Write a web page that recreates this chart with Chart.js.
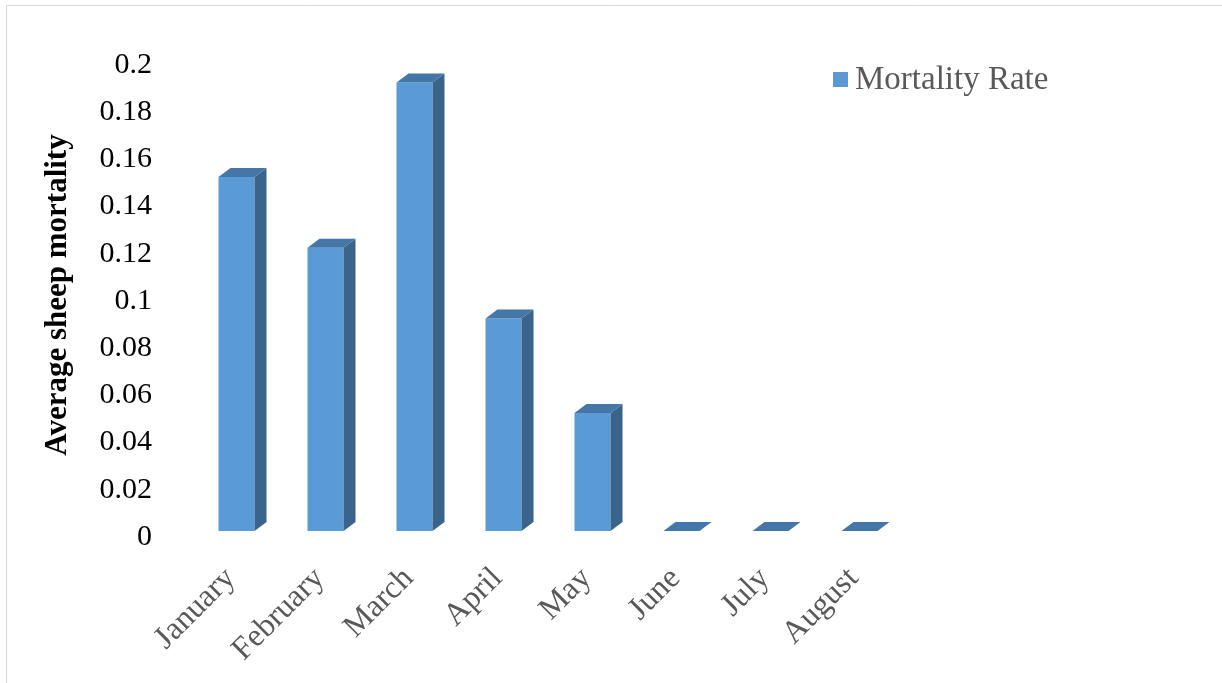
<!DOCTYPE html>
<html>
<head>
<meta charset="utf-8">
<script src="https://cdn.jsdelivr.net/npm/chart.js@4"></script>
<style>
  html, body { margin: 0; padding: 0; background: #fff; }
  #wrap { width: 1222px; height: 683px; position: relative; }
</style>
</head>
<body>
<div id="wrap"><canvas id="c" width="1222" height="683"></canvas></div>
<script>
const categories = ['January', 'February', 'March', 'April', 'May', 'June', 'July', 'August'];
const mortalityRate = [0.15, 0.12, 0.19, 0.09, 0.05, 0, 0, 0];
const yTickLabels = ['0', '0.02', '0.04', '0.06', '0.08', '0.1', '0.12', '0.14', '0.16', '0.18', '0.2'];
const seriesName = 'Mortality Rate';
const yTitle = 'Average sheep mortality';

const FRONT = '#5B9BD5';
const SIDE = '#3B648B';
const TOP = '#4576A8';
const DX = 12, DY = 9;
const SERIF = '"Liberation Serif", "Times New Roman", serif';

const bar3d = {
  id: 'bar3d',
  beforeDraw(chart) {
    const ctx = chart.ctx;
    ctx.save();
    ctx.fillStyle = '#fff';
    ctx.fillRect(0, 0, chart.width, chart.height);
    ctx.strokeStyle = '#d9d9d9';
    ctx.lineWidth = 1;
    ctx.beginPath();
    ctx.moveTo(6.5, 700); ctx.lineTo(6.5, 5.5); ctx.lineTo(1300, 5.5);
    ctx.stroke();
    ctx.restore();
  },
  afterDatasetsDraw(chart) {
    const ctx = chart.ctx;
    const meta = chart.getDatasetMeta(0);
    ctx.save();
    meta.data.forEach(el => {
      const p = el.getProps(['x', 'y', 'base', 'width'], true);
      const l = p.x - p.width / 2, r = p.x + p.width / 2;
      const top = Math.min(p.y, p.base), bot = p.base;
      if (bot - top > 0.5) {
        ctx.fillStyle = SIDE;
        ctx.beginPath();
        ctx.moveTo(r, top); ctx.lineTo(r + DX, top - DY);
        ctx.lineTo(r + DX, bot - DY); ctx.lineTo(r, bot);
        ctx.closePath(); ctx.fill();
      }
      ctx.fillStyle = TOP;
      ctx.beginPath();
      ctx.moveTo(l, top); ctx.lineTo(l + DX, top - DY);
      ctx.lineTo(r + DX, top - DY); ctx.lineTo(r, top);
      ctx.closePath(); ctx.fill();
    });
    ctx.restore();
  },
  afterDraw(chart) {
    const ctx = chart.ctx;
    ctx.save();
    ctx.fillStyle = FRONT;
    ctx.fillRect(833, 72, 15, 15);
    ctx.fillStyle = '#595959';
    ctx.font = '33px ' + SERIF;
    ctx.textBaseline = 'alphabetic';
    ctx.textAlign = 'left';
    ctx.fillText(chart.data.datasets[0].label, 855, 89);
    ctx.restore();
  }
};

new Chart(document.getElementById('c'), {
  type: 'bar',
  data: {
    labels: categories,
    datasets: [{
      label: seriesName,
      data: mortalityRate,
      backgroundColor: FRONT,
      borderWidth: 0,
      barPercentage: 0.405,
      categoryPercentage: 1
    }]
  },
  options: {
    responsive: false,
    animation: false,
    devicePixelRatio: 1,
    layout: { padding: { left: 0, right: 318, top: 59, bottom: 0 } },
    plugins: {
      legend: { display: false },
      tooltip: { enabled: false },
      title: { display: false }
    },
    scales: {
      x: {
        grid: { display: false, drawTicks: false },
        border: { display: false },
        ticks: {
          color: '#595959',
          font: { family: SERIF, size: 32 },
          maxRotation: 45,
          minRotation: 45,
          padding: 29,
          labelOffset: -6,
          autoSkip: false
        },
        afterFit(scale) { scale.height = 152; }
      },
      y: {
        min: 0,
        max: 0.2,
        grid: { display: false, drawTicks: false },
        border: { display: false },
        ticks: {
          stepSize: 0.02,
          color: '#000',
          padding: 40,
          labelOffset: 6,
          font: { family: SERIF, size: 30 },
          callback: (v, i) => yTickLabels[i]
        },
        title: {
          display: true,
          text: yTitle,
          color: '#000',
          padding: { top: 39, bottom: 0 },
          font: { family: SERIF, size: 31, weight: 'bold' }
        },
        afterFit(scale) { scale.width = 192; }
      }
    }
  },
  plugins: [bar3d]
});
</script>
</body>
</html>
